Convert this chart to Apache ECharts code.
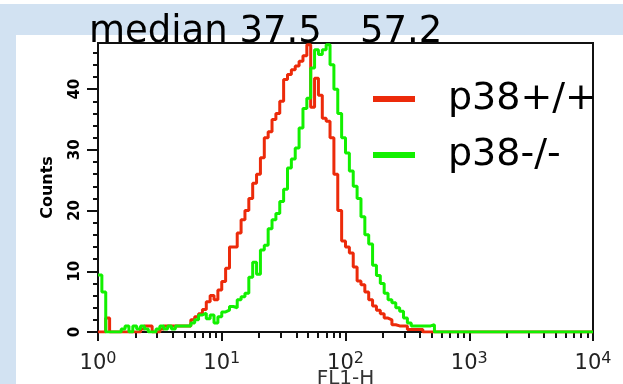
<!DOCTYPE html>
<html>
<head>
<meta charset="utf-8">
<script src="https://cdn.jsdelivr.net/npm/echarts@6/dist/echarts.min.js"></script>
<style>html,body{margin:0;padding:0;background:#fff}#main{width:623px;height:384px}</style>
</head>
<body>
<div id="main"></div>
<script>
// histogram: 32 bins per decade, from 10^0 to 10^4
let binsPerDecade = 32;
let seriesNames = ['p38+/+', 'p38-/-'];
let redCounts = [
  0, 0, 2.3, 0, 0, 0, 0, 0, 0, 0,
  0, 0.5, 1, 1, 0, 0, 0.5, 1, 1, 1,
  1, 1, 1, 1, 2, 2.5, 3, 3.7, 5, 6,
  5.3, 6.9, 8.3, 10.5, 14, 14, 16.3, 18.5, 20, 22,
  24.5, 26, 28.7, 32, 33, 35, 36, 38, 41.6, 42.4,
  43.2, 43.8, 44.6, 45.5, 47.3, 37, 41.8, 39, 35.2, 34.7,
  32, 26, 20, 15, 14, 13, 10.7, 8.4, 7.8, 6.6,
  5.3, 4.3, 3.6, 3, 2.3, 2, 1.2, 1, 1, 1,
  0.4, 0.4, 0.4, 0.4, 0, 0, 0, 0, 0, 0,
  0, 0, 0, 0, 0, 0, 0, 0, 0, 0,
  0, 0, 0, 0, 0, 0, 0, 0, 0, 0,
  0, 0, 0, 0, 0, 0, 0, 0, 0, 0,
  0, 0, 0, 0, 0, 0, 0, 0
];
let greenCounts = [
  9.4, 6.6, 0, 0, 0, 0, 0.5, 1, 0, 1,
  0.5, 1, 0.5, 0, 0, 0.5, 1, 0.5, 1, 0.5,
  1, 1, 1, 1, 1.5, 2, 2.8, 3.1, 2.2, 2.8,
  1.5, 2.5, 3.3, 3.6, 4.2, 4, 5.3, 5.8, 6.4, 9,
  11.5, 9.5, 13.5, 14.3, 17, 18.5, 19.5, 21.5, 23.5, 27,
  28.5, 30.3, 33.6, 36.8, 38.5, 43.5, 46.5, 45.7, 46.5, 47.3,
  44, 40, 36, 32, 29.5, 26.5, 24, 22, 19, 16,
  14.5, 11, 9.3, 8, 6.4, 5.3, 4.8, 4, 3.4, 2.3,
  1.5, 1, 1, 1, 1, 1, 1.2, 0, 0, 0,
  0, 0, 0, 0, 0, 0, 0, 0, 0, 0,
  0, 0, 0, 0, 0, 0, 0, 0, 0, 0,
  0, 0, 0, 0, 0, 0, 0, 0, 0, 0,
  0, 0, 0, 0, 0, 0, 0, 0
];
let decades = [0, 1, 2, 3, 4];
let yMajor = [0, 10, 20, 30, 40];
let yMinor = [2, 4, 6, 8, 12, 14, 16, 18, 22, 24, 26, 28, 32, 34, 36, 38, 42, 44, 46];
let medians = ['median 37.5', '57.2'];

// minor ticks at 2..9 x 10^n, on the log10 axis
let xMinor = [];
decades.slice(0, 4).forEach(n => {
  for (let k = 2; k <= 9; k++) xMinor.push(n + Math.log10(k));
});

function toSteps(counts) {
  let pts = counts.map((c, i) => [i / binsPerDecade, c]);
  pts.push([counts.length / binsPerDecade, 0]);
  return pts;
}

let chart = echarts.init(document.getElementById('main'));
let font = 'DejaVu Sans';
let option = {
  animation: false,
  backgroundColor: '#d2e2f2',
  graphic: [
    { type: 'rect', z: -10, shape: { x: 0, y: 0, width: 623, height: 4 }, style: { fill: '#fff' } },
    { type: 'rect', z: -10, shape: { x: 16, y: 35, width: 607, height: 349 }, style: { fill: '#fff' } }
  ],
  title: [
    { text: medians[0], left: 89, top: 14, padding: 0, textStyle: { fontFamily: font, fontSize: 37, fontWeight: 'normal', color: '#000' } },
    { text: medians[1], left: 360, top: 14, padding: 0, textStyle: { fontFamily: font, fontSize: 37, fontWeight: 'normal', color: '#000' } }
  ],
  legend: {
    data: seriesNames,
    orient: 'vertical',
    left: 373,
    top: 76,
    padding: 0,
    itemGap: 10,
    itemWidth: 42,
    itemHeight: 6,
    icon: 'rect',
    textStyle: { fontFamily: font, fontSize: 38, color: '#000', lineHeight: 46, padding: [0, 0, 0, 28] }
  },
  grid: {
    left: 98, right: 30, top: 43, bottom: 52, outerBoundsMode: 'none', containLabel: false,
    show: true, borderColor: '#111', borderWidth: 2, backgroundColor: 'transparent'
  },
  xAxis: [{
    type: 'value', min: 0, max: 4, position: 'bottom', offset: 2,
    axisLine: { lineStyle: { color: '#111', width: 2 } },
    axisTick: { customValues: decades, length: 9, lineStyle: { color: '#111', width: 2 } },
    axisLabel: {
      customValues: decades, margin: 17,
      formatter: v => '{b|10}{s|' + v + '}',
      rich: {
        b: { fontFamily: font, fontSize: 21, color: '#222', lineHeight: 26 },
        s: { fontFamily: font, fontSize: 16, color: '#222', verticalAlign: 'top', lineHeight: 16 }
      }
    },
    splitLine: { show: false },
    name: 'FL1-H', nameLocation: 'middle', nameGap: 35, nameMoveOverlap: false,
    nameTextStyle: { fontFamily: font, fontSize: 20, color: '#333' }
  }, {
    type: 'value', min: 0, max: 4, position: 'bottom', offset: 2,
    axisLine: { show: false },
    axisTick: { customValues: xMinor, length: 6, lineStyle: { color: '#111', width: 2 } },
    axisLabel: { show: false },
    splitLine: { show: false }
  }],
  yAxis: [{
    type: 'value', min: 0, max: 47.6, position: 'left',
    axisLine: { show: true, lineStyle: { color: '#111', width: 2 } },
    axisTick: { show: true, customValues: yMajor, length: 11, lineStyle: { color: '#111', width: 2 } },
    axisLabel: { customValues: yMajor, rotate: 90, margin: 15, fontFamily: font, fontWeight: 'bold', fontSize: 15, color: '#000' },
    splitLine: { show: false },
    name: 'Counts', nameLocation: 'middle', nameGap: 42, nameMoveOverlap: false,
    nameTextStyle: { fontFamily: font, fontWeight: 'bold', fontSize: 16, color: '#000' }
  }, {
    type: 'value', min: 0, max: 47.6, position: 'left',
    axisLine: { show: false },
    axisTick: { show: true, customValues: yMinor, length: 5, lineStyle: { color: '#111', width: 2 } },
    axisLabel: { show: false },
    splitLine: { show: false }
  }],
  series: [{
    name: seriesNames[0], type: 'line', step: 'end', showSymbol: false, symbol: 'none',
    data: toSteps(redCounts), color: '#ec2a0a',
    lineStyle: { color: '#ec2a0a', width: 3 }
  }, {
    name: seriesNames[1], type: 'line', step: 'end', showSymbol: false, symbol: 'none',
    data: toSteps(greenCounts), color: '#12f000',
    lineStyle: { color: '#12f000', width: 3 }
  }]
};
chart.setOption(option);
</script>
</body>
</html>
